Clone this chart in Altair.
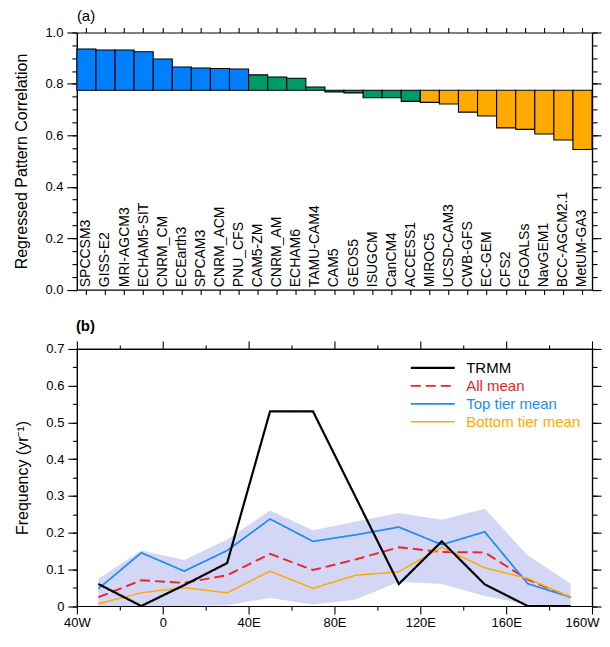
import altair as alt
import pandas as pd

FONT = "Liberation Sans"

# ---------------- panel (a) data ----------------
models = ["SPCCSM3", "GISS-E2", "MRI-AGCM3", "ECHAM5-SIT", "CNRM_CM", "ECEarth3", "SPCAM3",
          "CNRM_ACM", "PNU_CFS", "CAM5-ZM", "CNRM_AM", "ECHAM6", "TAMU-CAM4", "CAM5", "GEOS5",
          "ISUGCM", "CanCM4", "ACCESS1", "MIROC5", "UCSD-CAM3", "CWB-GFS", "EC-GEM", "CFS2",
          "FGOALSs", "NavGEM1", "BCC-AGCM2.1", "MetUM-GA3"]
corr = [0.936, 0.932, 0.932, 0.925, 0.897, 0.866, 0.862, 0.860, 0.858,
        0.835, 0.827, 0.822, 0.788, 0.769, 0.765, 0.746, 0.746, 0.732,
        0.728, 0.722, 0.690, 0.675, 0.629, 0.623, 0.605, 0.582, 0.545]
tiers = ["Top"] * 9 + ["Middle"] * 9 + ["Bottom"] * 9
tier_names = ["Top", "Middle", "Bottom"]
tier_colors = ["#0080FF", "#009A66", "#FFAA00"]
baseline = 0.775

ya_major = [0.0, 0.2, 0.4, 0.6, 0.8, 1.0]
ya_minor = [round(0.05 * i, 2) for i in range(21)]

# ---------------- panel (b) data ----------------
lon = [-30, -10, 10, 30, 50, 70, 90, 110, 130, 150, 170, 190]
trmm = [0.060, 0.000, 0.057, 0.117, 0.530, 0.530, 0.295, 0.060, 0.176, 0.059, 0.000, 0.000]
all_mean = [0.024, 0.070, 0.063, 0.084, 0.142, 0.098, 0.127, 0.160, 0.147, 0.146, 0.072, 0.024]
top_mean = [0.047, 0.145, 0.095, 0.151, 0.237, 0.176, 0.194, 0.215, 0.167, 0.202, 0.061, 0.024]
bottom_mean = [0.006, 0.036, 0.050, 0.036, 0.095, 0.048, 0.084, 0.093, 0.160, 0.104, 0.075, 0.024]
band_hi = [0.074, 0.151, 0.125, 0.181, 0.260, 0.206, 0.230, 0.253, 0.235, 0.265, 0.138, 0.061]
band_lo = [0.000, 0.000, 0.000, 0.002, 0.022, 0.004, 0.018, 0.066, 0.060, 0.027, 0.004, 0.000]

series_names = ["TRMM", "All mean", "Top tier mean", "Bottom tier mean"]
series_colors = ["#000000", "#E8262B", "#1E8CF0", "#FFAA00"]
series_dash = [[1, 0], [10, 5], [1, 0], [1, 0]]
series_width = [2.2, 1.5, 1.5, 1.5]

xb_major = [-40, 0, 40, 80, 120, 160, 200]
xb_labels = ["40W", "0", "40E", "80E", "120E", "160E", "160W"]
xb_minor = [-20, 20, 60, 100, 140, 180]
yb_major = [0.0, 0.1, 0.2, 0.3, 0.4, 0.5, 0.6, 0.7]
yb_minor = [round(0.05 * i, 2) for i in range(15)]

W, H = 516, 257.5


def axis(orient, size, values=None, labels=False, title=None, fmt=None, label_expr=None,
         label_pad=4, title_pad=15.5, label_offset=None):
    kw = dict(orient=orient, tickSize=size, labels=labels, title=title, grid=False,
              domainColor="black", tickColor="black", domainWidth=1.2, tickWidth=1.1)
    if values is not None:
        kw["values"] = values
    if labels:
        kw.update(labelFont=FONT, labelFontSize=13, labelColor="black", labelPadding=label_pad,
                  labelFlush=False, labelOverlap=False)
        if fmt:
            kw["format"] = fmt
        if label_expr:
            kw["labelExpr"] = label_expr
        if label_offset is not None:
            kw["labelOffset"] = label_offset
    if title:
        kw.update(titleFont=FONT, titleFontSize=16, titleFontWeight="normal", titleColor="black",
                  titlePadding=title_pad)
    return alt.Axis(**kw)


# ---------------- panel (a) ----------------
dfa = pd.DataFrame({"model": models, "corr": corr, "tier": tiers})
xa_scale = alt.Scale(domain=models, paddingInner=0, paddingOuter=0)
ya_scale = alt.Scale(domain=[0, 1], nice=False)

bars = alt.Chart(dfa).mark_bar(stroke="black", strokeWidth=1.1).encode(
    x=alt.X("model:N", scale=xa_scale, axis=axis("bottom", 5)),
    y=alt.Y("corr:Q", scale=ya_scale,
            axis=axis("left", 10, ya_major, labels=True, fmt=".1f",
                      title="Regressed Pattern Correlation")),
    y2=alt.datum(baseline),
    color=alt.Color("tier:N", scale=alt.Scale(domain=tier_names, range=tier_colors), legend=None),
)

names_a = alt.Chart(dfa).transform_calculate(ly="0.009").mark_text(
    angle=270, align="left", baseline="middle", font=FONT, fontSize=14, color="black"
).encode(
    x=alt.X("model:N", scale=xa_scale, axis=axis("top", 5)),
    y=alt.Y("ly:Q", scale=ya_scale, axis=axis("left", 5, ya_minor)),
    text="model:N",
)

dum_a1 = alt.Chart(dfa).mark_point(opacity=0, size=1).encode(
    x=alt.X("model:N", scale=xa_scale, axis=None),
    y=alt.Y("corr:Q", scale=ya_scale, axis=axis("right", 9, ya_major)),
)
dum_a2 = alt.Chart(dfa).mark_point(opacity=0, size=1).encode(
    x=alt.X("model:N", scale=xa_scale, axis=None),
    y=alt.Y("corr:Q", scale=ya_scale, axis=axis("right", 5, ya_minor)),
)
tag_a = alt.Chart(alt.Data(values=[{"t": "(a)"}])).mark_text(
    align="left", baseline="alphabetic", font=FONT, fontSize=15, color="black"
).encode(x=alt.value(0), y=alt.value(-12), text="t:N")

panel_a = alt.layer(bars, names_a, dum_a1, dum_a2, tag_a).resolve_axis(
    x="independent", y="independent").properties(width=W, height=H)

# ---------------- panel (b) ----------------
dfband = pd.DataFrame({"lon": lon, "lo": band_lo, "hi": band_hi})
order_draw = ["All mean", "Top tier mean", "Bottom tier mean", "TRMM"]
series_vals = {"TRMM": trmm, "All mean": all_mean, "Top tier mean": top_mean,
               "Bottom tier mean": bottom_mean}
dfl = pd.DataFrame([
    {"lon": x, "freq": v, "series": s, "ord": order_draw.index(s)}
    for s in order_draw for x, v in zip(lon, series_vals[s])
])

xb_scale = alt.Scale(domain=[-40, 200], nice=False)
yb_scale = alt.Scale(domain=[0, 0.7], nice=False)

lab_expr = " : ".join(
    f"datum.value == {v} ? '{t}'" for v, t in zip(xb_major, xb_labels)) + " : ''"
# keep the last label ("160W") inside the page
last_label_shift = {"condition": {"test": f"datum.value == {xb_major[-1]}", "value": -10},
                    "value": 0}

band = alt.Chart(dfband).mark_area(color="#D3D7F5", opacity=1).encode(
    x=alt.X("lon:Q", scale=xb_scale,
            axis=axis("bottom", 8, xb_major, labels=True, label_expr=lab_expr, label_pad=3,
                      label_offset=last_label_shift)),
    y=alt.Y("lo:Q", scale=yb_scale,
            axis=axis("left", 9, yb_major, labels=True, fmt=".1~f", title="Frequency (yr⁻¹)")),
    y2="hi:Q",
)

color_expr = " : ".join(
    f"datum.value == '{s}' ? '{c}'" for s, c in zip(series_names, series_colors)) + " : 'black'"


def legend():
    return alt.Legend(
        title=None, orient="none", legendX=333, legendY=10, symbolType="stroke",
        symbolSize=1936, clipHeight=18, rowPadding=0, padding=0, labelOffset=10,
        labelFont=FONT, labelFontSize=15, labelColor=alt.ExprRef(color_expr),
    )


lines = alt.Chart(dfl).mark_line().encode(
    x=alt.X("lon:Q", scale=xb_scale, axis=axis("bottom", 4, xb_minor)),
    y=alt.Y("freq:Q", scale=yb_scale, axis=axis("left", 4.5, yb_minor)),
    color=alt.Color("series:N", scale=alt.Scale(domain=series_names, range=series_colors),
                    legend=legend()),
    strokeDash=alt.StrokeDash("series:N", scale=alt.Scale(domain=series_names, range=series_dash),
                              legend=legend()),
    strokeWidth=alt.StrokeWidth("series:N",
                                scale=alt.Scale(domain=series_names, range=series_width),
                                legend=legend()),
    order=alt.Order("ord:Q"),
)

dum_b1 = alt.Chart(dfband).mark_point(opacity=0, size=1).encode(
    x=alt.X("lon:Q", scale=xb_scale, axis=axis("top", 8, xb_major)),
    y=alt.Y("hi:Q", scale=yb_scale, axis=axis("right", 9, yb_major)),
)
dum_b2 = alt.Chart(dfband).mark_point(opacity=0, size=1).encode(
    x=alt.X("lon:Q", scale=xb_scale, axis=axis("top", 4, xb_minor)),
    y=alt.Y("hi:Q", scale=yb_scale, axis=axis("right", 5, yb_minor)),
)
tag_b = alt.Chart(alt.Data(values=[{"t": "(b)"}])).mark_text(
    align="left", baseline="alphabetic", font=FONT, fontSize=15, fontWeight="bold", color="black"
).encode(x=alt.value(-1), y=alt.value(-18), text="t:N")

panel_b = alt.layer(band, lines, dum_b1, dum_b2, tag_b).resolve_axis(
    x="independent", y="independent").properties(width=W, height=H)

chart = alt.vconcat(panel_a, panel_b, spacing=59, bounds="flush").resolve_scale(
    color="independent", strokeDash="independent", strokeWidth="independent",
    x="independent", y="independent"
).configure_view(stroke=None).properties(
    padding={"left": 5, "top": 0, "right": 0, "bottom": 0})

chart.save("out.html", embed_options={"renderer": "svg", "actions": False})
